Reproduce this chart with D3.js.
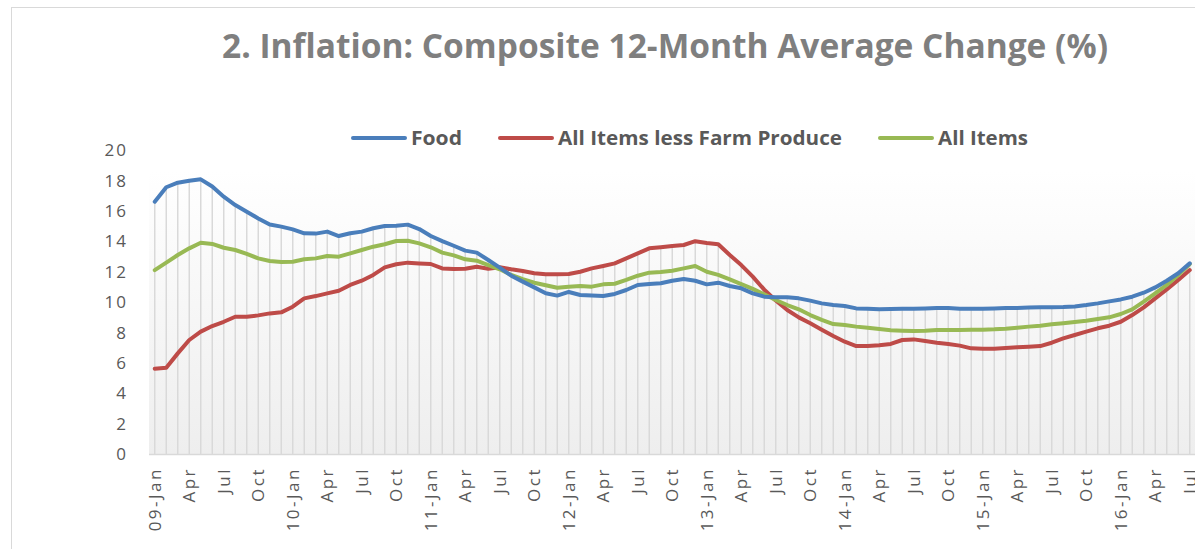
<!DOCTYPE html>
<html>
<head>
<meta charset="utf-8">
<script src="https://cdn.jsdelivr.net/npm/d3@7"></script>
<style>
  body { margin: 0; background: #fff; }
  svg { display: block; }
</style>
</head>
<body>
<svg id="chart"></svg>
<script>
// monthly, 09-Jan .. 16-Jul
const years = ["09", "10", "11", "12", "13", "14", "15", "16"];
const monthNames = ["Jan", "Feb", "Mar", "Apr", "May", "Jun", "Jul", "Aug", "Sep", "Oct", "Nov", "Dec"];

const food = [
  16.6, 17.55, 17.85, 17.98, 18.07, 17.6, 16.93, 16.38, 15.94, 15.5,
  15.1, 14.96, 14.78, 14.52, 14.5, 14.63, 14.34, 14.52, 14.63, 14.85,
  15.0, 15.02, 15.09, 14.8, 14.34, 14.01, 13.7, 13.38, 13.25, 12.76,
  12.26, 11.73, 11.34, 10.96, 10.57, 10.42, 10.66, 10.46, 10.42, 10.39,
  10.53, 10.79, 11.12, 11.18, 11.23, 11.4, 11.51, 11.4, 11.16, 11.27,
  11.05, 10.9, 10.57, 10.35, 10.31, 10.31, 10.24, 10.09, 9.91, 9.8,
  9.74, 9.58, 9.56, 9.52, 9.54, 9.56, 9.56, 9.58, 9.61, 9.61,
  9.56, 9.56, 9.56, 9.58, 9.61, 9.61, 9.63, 9.65, 9.65, 9.67,
  9.71, 9.8, 9.91, 10.04, 10.17, 10.35, 10.61, 10.96, 11.4, 11.89,
  12.54
];

const lessFarm = [
  5.61, 5.68, 6.62, 7.5, 8.05, 8.42, 8.7, 9.03, 9.03, 9.12,
  9.25, 9.32, 9.69, 10.24, 10.39, 10.57, 10.74, 11.12, 11.4, 11.78,
  12.28, 12.48, 12.59, 12.54, 12.5, 12.21, 12.17, 12.19, 12.32, 12.19,
  12.28, 12.15, 12.04, 11.89, 11.82, 11.82, 11.84, 11.99, 12.21, 12.37,
  12.54, 12.87, 13.2, 13.53, 13.6, 13.68, 13.75, 14.0, 13.88, 13.8,
  13.09, 12.43, 11.67, 10.81, 10.1, 9.47, 8.99, 8.6, 8.18, 7.76,
  7.39, 7.1, 7.1, 7.15, 7.24, 7.5, 7.54, 7.43, 7.32, 7.24,
  7.13, 6.95, 6.93, 6.93, 6.97, 7.02, 7.06, 7.1, 7.32, 7.61,
  7.83, 8.05, 8.27, 8.44, 8.7, 9.14, 9.65, 10.24, 10.83, 11.45,
  12.1
];

const allItems = [
  12.1, 12.59, 13.09, 13.53, 13.9, 13.82, 13.57, 13.42, 13.16, 12.87,
  12.7, 12.63, 12.65, 12.81, 12.87, 13.03, 12.98, 13.2, 13.42, 13.64,
  13.8, 14.01, 14.03, 13.86, 13.6, 13.25, 13.07, 12.81, 12.72, 12.43,
  12.15, 11.78, 11.51, 11.27, 11.1, 10.94, 11.01, 11.05, 11.01, 11.16,
  11.2, 11.45, 11.73, 11.93, 11.97, 12.06, 12.21, 12.37, 11.99, 11.78,
  11.49, 11.18, 10.86, 10.5, 10.13, 9.8, 9.52, 9.14, 8.82, 8.55,
  8.49, 8.38, 8.31, 8.22, 8.14, 8.11, 8.09, 8.11, 8.16, 8.16,
  8.16, 8.18, 8.18, 8.2, 8.24, 8.31, 8.38, 8.44, 8.53, 8.6,
  8.68, 8.77, 8.88, 8.99, 9.21, 9.52, 10.02, 10.57, 11.12, 11.78,
  12.5
];

const yTicks = [0, 2, 4, 6, 8, 10, 12, 14, 16, 18, 20];

const series = [
  { name: "Food", values: food, color: "#4a7ebb" },
  { name: "All Items less Farm Produce", values: lessFarm, color: "#be4b48" },
  { name: "All Items", values: allItems, color: "#98b954" }
];

// month labels: "09-Jan", "Feb", ...
const months = d3.range(food.length).map(i => {
  const m = i % 12;
  const y = years[Math.floor(i / 12)];
  return m === 0 ? `${y}-${monthNames[m]}` : monthNames[m];
});

const width = 1195, height = 549;
const plot = { left: 149, right: 1195.5, top: 150, bottom: 454 };

const svg = d3.select("#chart").attr("width", width).attr("height", height);

// outer chart border (clipped at right/bottom)
svg.append("rect")
  .attr("x", 11.5).attr("y", 7.5)
  .attr("width", width + 20).attr("height", height + 20)
  .attr("fill", "none").attr("stroke", "#d9d9d9").attr("stroke-width", 1);

const x = d3.scaleBand()
  .domain(d3.range(months.length))
  .range([plot.left, plot.right])
  .padding(0);
const cx = i => x(i) + x.bandwidth() / 2;

const y = d3.scaleLinear().domain([0, 20]).range([plot.bottom, plot.top]);

// plot background gradient
const defs = svg.append("defs");
const grad = defs.append("linearGradient")
  .attr("id", "bg").attr("x1", 0).attr("y1", 0).attr("x2", 0).attr("y2", 1);
grad.append("stop").attr("offset", "0%").attr("stop-color", "#ffffff");
grad.append("stop").attr("offset", "100%").attr("stop-color", "#eeeeee");

svg.append("rect")
  .attr("x", plot.left).attr("y", plot.top + 20)
  .attr("width", plot.right - plot.left).attr("height", plot.bottom - plot.top - 20)
  .attr("fill", "url(#bg)");

// drop lines from highest series to the axis
svg.append("g")
  .selectAll("line")
  .data(months.map((m, i) => i))
  .join("line")
  .attr("x1", i => cx(i)).attr("x2", i => cx(i))
  .attr("y1", i => y(d3.max(series, s => s.values[i])))
  .attr("y2", y(0))
  .attr("stroke", "#d9d9d9")
  .attr("stroke-width", 1.5);

// x axis line
svg.append("line")
  .attr("x1", plot.left).attr("x2", plot.right)
  .attr("y1", y(0) + 0.5).attr("y2", y(0) + 0.5)
  .attr("stroke", "#d9d9d9").attr("stroke-width", 1.5);

// y tick labels
svg.append("g")
  .selectAll("text")
  .data(yTicks)
  .join("text")
  .attr("x", 128)
  .attr("y", d => y(d))
  .attr("dy", "0.36em")
  .attr("text-anchor", "end")
  .attr("fill", "#595959")
  .style("font-family", "'Open Sans', sans-serif")
  .style("font-size", "17px")
  .style("letter-spacing", "2px")
  .text(d => d);

// x tick labels, every 3 months, rotated
svg.append("g")
  .selectAll("text")
  .data(months.map((m, i) => i).filter(i => i % 3 === 0))
  .join("text")
  .attr("transform", i => `translate(${cx(i) + 6},${y(0) + 13}) rotate(-90)`)
  .attr("text-anchor", "end")
  .attr("fill", "#595959")
  .style("font-family", "'Open Sans', sans-serif")
  .style("font-size", "17px")
  .style("letter-spacing", "2.5px")
  .text(i => months[i]);

// lines
const line = d3.line()
  .x((d, i) => cx(i))
  .y(d => y(d));

svg.append("g")
  .selectAll("path")
  .data([series[1], series[2], series[0]])
  .join("path")
  .attr("d", s => line(s.values))
  .attr("fill", "none")
  .attr("stroke", s => s.color)
  .attr("stroke-width", 4)
  .attr("stroke-linejoin", "round")
  .attr("stroke-linecap", "round");

// title
svg.append("text")
  .attr("x", 222).attr("y", 58)
  .attr("textLength", 886)
  .attr("lengthAdjust", "spacingAndGlyphs")
  .attr("fill", "#7f7f7f")
  .style("font-family", "'Open Sans', sans-serif")
  .style("font-weight", "bold")
  .style("font-size", "34px")
  .text("2. Inflation: Composite 12-Month Average Change (%)");

// legend
const legendItems = [
  { s: series[0], lx: 353, tx: 411, tw: 51 },
  { s: series[1], lx: 500, tx: 558, tw: 284 },
  { s: series[2], lx: 880, tx: 938, tw: 90 }
];
const legend = svg.append("g");
legend.selectAll("line")
  .data(legendItems)
  .join("line")
  .attr("x1", d => d.lx).attr("x2", d => d.lx + 52)
  .attr("y1", 138).attr("y2", 138)
  .attr("stroke", d => d.s.color)
  .attr("stroke-width", 4)
  .attr("stroke-linecap", "round");
legend.selectAll("text")
  .data(legendItems)
  .join("text")
  .attr("x", d => d.tx).attr("y", 145)
  .attr("textLength", d => d.tw)
  .attr("lengthAdjust", "spacingAndGlyphs")
  .attr("fill", "#595959")
  .style("font-family", "'Open Sans', sans-serif")
  .style("font-weight", "bold")
  .style("font-size", "19px")
  .text(d => d.s.name);
</script>
</body>
</html>
